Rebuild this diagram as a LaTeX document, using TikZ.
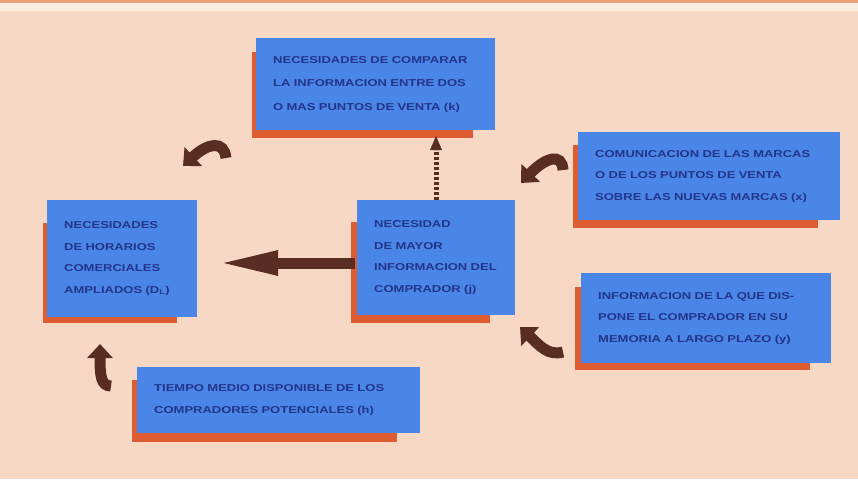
\documentclass[tikz,border=0pt]{standalone}
\usepackage{fontspec}
\newfontfamily\boxfont[FakeStretch=1.3]{Liberation Sans}
\usetikzlibrary{arrows.meta}
\definecolor{peach}{HTML}{F7D8C4}
\definecolor{topor}{HTML}{E9A27A}
\definecolor{topwh}{HTML}{FBEDE4}
\definecolor{boxblue}{HTML}{4A86E8}
\definecolor{shadowc}{HTML}{DE5C32}
\definecolor{txtblue}{HTML}{23348A}
\definecolor{arrowc}{HTML}{5A2D23}
\begin{document}
\begin{tikzpicture}[x=1pt,y=-1pt,
  bx/.style={fill=boxblue, anchor=north west, inner xsep=17pt, inner ysep=0pt, align=left,
    text=txtblue, font={\boxfont\bfseries\fontsize{10}{21.5}\selectfont}},
  shad/.style={fill=shadowc},
  curvarr/.style={draw=arrowc, line width=11pt, -{Triangle[length=14pt,width=25pt]}}]
\useasboundingbox (0,0) rectangle (858,479);
\fill[peach] (0,0) rectangle (858,479);
\fill[topor] (0,0) rectangle (858,3);
\fill[topwh] (0,3) rectangle (858,11);

% shadows
\fill[shad] (252,52) rectangle (473,138);
\fill[shad] (573,145) rectangle (818,228);
\fill[shad] (43,223) rectangle (177,323);
\fill[shad] (351,222) rectangle (490,323);
\fill[shad] (575,287) rectangle (810,370);
\fill[shad] (132,380) rectangle (397,442);

% coordinates for arrows
\coordinate (bigtip) at (216,263);
\coordinate (uptip) at (436,136);
\coordinate (upbase) at (436,150);

% boxes
\node[bx, minimum width=239pt, minimum height=92pt, text width=205pt,
  font={\boxfont\bfseries\fontsize{10}{23.5}\selectfont}] (k) at (256,38)
  {NECESIDADES DE COMPARAR\\LA INFORMACION ENTRE DOS\\O MAS PUNTOS DE VENTA (k)};
\node[bx, minimum width=262pt, minimum height=88pt, text width=228pt] (x) at (578,132)
  {COMUNICACION DE LAS MARCAS\\O DE LOS PUNTOS DE VENTA\\SOBRE LAS NUEVAS MARCAS (x)};
\node[bx, minimum width=150pt, minimum height=117pt, text width=116pt] (dl) at (47,200)
  {NECESIDADES\\DE HORARIOS\\COMERCIALES\\AMPLIADOS (D\textsubscript{L})};
\node[bx, minimum width=158pt, minimum height=115pt, text width=124pt] (ctr) at (357,200)
  {NECESIDAD\\DE MAYOR\\INFORMACION DEL\\COMPRADOR (j)};
\node[bx, minimum width=250pt, minimum height=90pt, text width=216pt] (y) at (581,273)
  {INFORMACION DE LA QUE DIS-\\PONE EL COMPRADOR EN SU\\MEMORIA A LARGO PLAZO (y)};
\node[bx, minimum width=283pt, minimum height=66pt, text width=249pt] (h) at (137,367)
  {TIEMPO MEDIO DISPONIBLE DE LOS\\COMPRADORES POTENCIALES (h)};

% big arrow from center to left box
\draw[draw=arrowc, line width=11pt, -{Triangle[length=62pt,width=22pt]}]
  ([xshift=-2pt]ctr.west |- bigtip) -- (bigtip);

% upward dashed arrow
\draw[draw=arrowc, line width=5pt, dash pattern=on 3pt off 2pt] (ctr.north -| upbase) -- (upbase);
\fill[arrowc] (uptip) -- ([xshift=-6pt]upbase) -- ([xshift=6pt]upbase) -- cycle;

% curved arrows
\coordinate (a1t) at (226,158); \coordinate (a1h) at (183,166);
\draw[curvarr] (a1t) .. controls (224,140) and (208,143) .. (a1h);
\coordinate (a2t) at (563,170); \coordinate (a2h) at (521,183);
\draw[curvarr] (a2t) .. controls (562,152) and (545,158) .. (a2h);
\coordinate (a3t) at (563,352); \coordinate (a3h) at (520,327);
\draw[curvarr] (a3t) .. controls (548,356) and (540,346) .. (a3h);
\coordinate (a4t) at (111,386); \coordinate (a4h) at (100,344);
\draw[curvarr] (a4t) .. controls (101,386) and (100,376) .. (a4h);
\end{tikzpicture}
\end{document}
